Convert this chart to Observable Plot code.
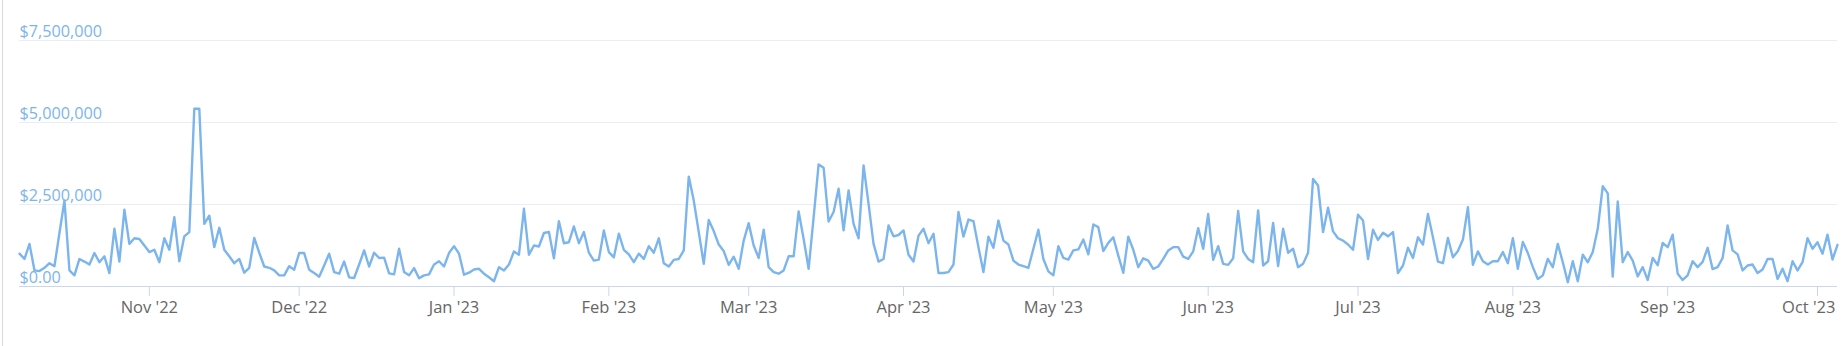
<!DOCTYPE html>
<html>
<head>
<meta charset="utf-8">
<script src="https://cdn.jsdelivr.net/npm/d3@7"></script>
<script src="https://cdn.jsdelivr.net/npm/@observablehq/plot@0.6"></script>
<style>
  html, body { margin: 0; padding: 0; background: #fff; }
  #chart { position: relative; width: 1842px; height: 346px; overflow: hidden; }
  #chart svg { display: block; }
  #border { position: absolute; left: 2px; top: 0; width: 1px; height: 346px; background: #d9d9d9; }
</style>
</head>
<body>
<div id="chart"><div id="border"></div></div>
<script>
// Daily series, first day and values in millions of dollars
const startDate = "2022-10-06";
const valuesM = [
  1.00,0.84,1.30,0.49,0.47,0.57,0.71,0.62,1.63,2.62,
  0.49,0.34,0.84,0.76,0.67,1.02,0.74,0.92,0.41,1.76,
  0.76,2.34,1.30,1.47,1.45,1.25,1.05,1.12,0.74,1.47,
  1.12,2.11,0.77,1.53,1.66,5.42,5.42,1.91,2.16,1.20,
  1.79,1.12,0.92,0.71,0.84,0.42,0.57,1.48,1.03,0.61,
  0.57,0.49,0.34,0.34,0.62,0.51,1.02,1.02,0.51,0.41,
  0.30,0.64,1.00,0.44,0.39,0.76,0.28,0.26,0.67,1.10,
  0.61,1.03,0.87,0.88,0.40,0.37,1.15,0.44,0.34,0.56,
  0.25,0.34,0.37,0.67,0.77,0.61,1.02,1.23,1.00,0.36,
  0.42,0.52,0.54,0.39,0.28,0.16,0.59,0.49,0.67,1.07,
  0.97,2.37,0.97,1.25,1.22,1.63,1.66,0.86,1.99,1.32,
  1.35,1.83,1.32,1.66,1.03,0.79,0.82,1.71,1.05,0.89,
  1.61,1.12,0.98,0.74,1.00,0.84,1.23,1.03,1.47,0.71,
  0.61,0.81,0.84,1.10,3.35,2.62,1.66,0.69,2.03,1.69,
  1.28,1.08,0.66,0.91,0.54,1.40,1.93,1.25,0.87,1.73,
  0.59,0.44,0.39,0.49,0.92,0.92,2.29,1.45,0.54,2.11,
  3.72,3.62,1.98,2.27,2.98,1.71,2.93,1.91,1.47,3.69,
  2.52,1.30,0.76,0.84,1.86,1.53,1.57,1.71,0.97,0.76,
  1.55,1.76,1.32,1.61,0.41,0.41,0.44,0.67,2.27,1.52,
  2.04,1.99,1.20,0.44,1.52,1.18,2.01,1.40,1.28,0.79,
  0.67,0.62,0.57,1.15,1.73,0.84,0.46,0.34,1.23,0.87,
  0.82,1.10,1.13,1.43,0.98,1.89,1.81,1.08,1.33,1.50,
  0.94,0.42,1.52,1.12,0.59,0.86,0.79,0.54,0.61,0.84,
  1.10,1.20,1.20,0.91,0.84,1.07,1.78,1.15,2.21,0.81,
  1.23,0.69,0.66,0.86,2.30,1.07,0.84,0.74,2.32,0.64,
  0.77,1.94,0.62,1.76,1.03,1.15,0.59,0.69,1.03,3.28,
  3.08,1.66,2.40,1.68,1.47,1.40,1.28,1.12,2.19,2.01,
  0.84,1.73,1.42,1.64,1.53,1.66,0.41,0.64,1.18,0.87,
  1.50,1.28,2.21,1.50,0.76,0.71,1.48,0.89,1.08,1.43,
  2.42,0.66,1.07,0.77,0.67,0.77,0.77,1.05,0.71,1.47,
  0.54,1.36,1.02,0.59,0.23,0.34,0.84,0.59,1.30,0.74,
  0.13,0.77,0.16,0.97,0.74,1.05,1.76,3.06,2.84,0.30,
  2.59,0.74,1.05,0.79,0.31,0.59,0.20,0.87,0.65,1.33,
  1.20,1.58,0.39,0.20,0.34,0.77,0.59,0.75,1.18,0.53,
  0.59,0.87,1.86,1.10,0.98,0.49,0.64,0.67,0.41,0.52,
  0.84,0.84,0.23,0.54,0.16,0.77,0.49,0.74,1.47,1.15,
  1.35,1.00,1.58,0.82,1.27
];

// Axis ticks
const yTicks = [0, 2.5, 5, 7.5];
const yTickLabels = ["$0.00", "$2,500,000", "$5,000,000", "$7,500,000"];
const xTicks = ["2022-11-01","2022-12-01","2023-01-01","2023-02-01","2023-03-01","2023-04-01",
                "2023-05-01","2023-06-01","2023-07-01","2023-08-01","2023-09-01","2023-10-01"];
const xTickLabels = ["Nov '22","Dec '22","Jan '23","Feb '23","Mar '23","Apr '23",
                     "May '23","Jun '23","Jul '23","Aug '23","Sep '23","Oct '23"];

const start = new Date(startDate + "T00:00:00Z");
const data = valuesM.map((v, i) => ({date: d3.utcDay.offset(start, i), value: v}));
const xTickDates = xTicks.map(s => new Date(s + "T00:00:00Z"));
const xTickTable = xTickDates.map((d, i) => ({date: d, label: xTickLabels[i]}));
const xInner = xTickTable.slice(0, -1);           // centred under their ticks
const xLast = xTickTable.slice(-1);               // justified to fit the right edge
const yTickTable = yTicks.map((v, i) => ({v, label: yTickLabels[i]}));

const font = "'Open Sans', 'Noto Sans', sans-serif";

const chart = Plot.plot({
  width: 1842,
  height: 346,
  marginLeft: 19,
  marginRight: 5,
  marginTop: 40,
  marginBottom: 60,
  style: {fontFamily: font, background: "#fff", overflow: "visible"},
  x: {type: "utc", domain: [data[0].date, data[data.length - 1].date], axis: null},
  y: {domain: [0, 7.5], axis: null},
  marks: [
    Plot.gridY(yTicks, {stroke: "#e9edf4", strokeOpacity: 1, strokeWidth: 1}),
    Plot.ruleY([0], {stroke: "#ccd6eb", strokeWidth: 1}),
    Plot.axisX(xTickDates, {tickSize: 10, stroke: "#ccd6eb", strokeOpacity: 1, tickFormat: () => ""}),
    Plot.text(xInner, {x: "date", frameAnchor: "bottom", dy: 21, text: "label",
      fill: "#666666", fontSize: 16.5, textAnchor: "middle", lineAnchor: "middle"}),
    Plot.text(xLast, {frameAnchor: "bottom-right", dx: -2, dy: 21, text: "label",
      fill: "#666666", fontSize: 16.5, textAnchor: "end", lineAnchor: "middle"}),
    Plot.text(yTickTable, {y: "v", frameAnchor: "left", dy: -9, text: "label",
      fill: "#7cb5ec", fontSize: 16.2, textAnchor: "start", lineAnchor: "middle"}),
    Plot.lineY(data, {x: "date", y: "value", stroke: "#7cb5ec", strokeWidth: 2.4,
      strokeLinejoin: "round", strokeLinecap: "round"})
  ]
});
document.getElementById("chart").appendChild(chart);
</script>
</body>
</html>
